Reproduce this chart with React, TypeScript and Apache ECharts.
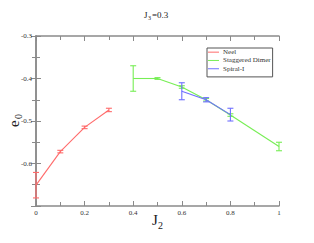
import React, { useEffect, useRef } from "react";
import * as echarts from "echarts";

const neelX = [0, 0.1, 0.2, 0.3];
const neelY = [-0.651, -0.572, -0.515, -0.474];
const neelErr = [0.03, 0.003, 0.003, 0.004];

const dimerX = [0.4, 0.5, 0.6, 0.7, 0.8, 1.0];
const dimerY = [-0.4, -0.4, -0.42, -0.45, -0.486, -0.56];
const dimerErr = [0.03, 0.002, 0.003, 0.003, 0.003, 0.01];

const spiralX = [0.6, 0.7, 0.8];
const spiralY = [-0.43, -0.45, -0.485];
const spiralErr = [0.02, 0.005, 0.015];

const xTicks = [0, 0.2, 0.4, 0.6, 0.8, 1];
const yTickLabels = [-0.3, -0.4, -0.5, -0.6];

const RED = "#ff6a6a";
const GREEN = "#77ee55";
const BLUE = "#6f6fff";
const FONT = "Liberation Serif";

// custom series: each item = [x, y, yLow, yHigh, prevX, prevY]; draws the segment from the previous point and the error bar
function dataSeries(name: string, xs: number[], ys: number[], errs: number[], color: string) {
  return {
    name: name + " data",
    type: "custom",
    data: xs.map((x, i) => [
      x,
      ys[i],
      ys[i] - errs[i],
      ys[i] + errs[i],
      i > 0 ? xs[i - 1] : x,
      i > 0 ? ys[i - 1] : ys[i],
    ]),
    encode: { x: 0, y: 1 },
    renderItem: (params: any, api: any) => {
      const x = api.value(0);
      const p = api.coord([x, api.value(1)]);
      const q = api.coord([api.value(4), api.value(5)]);
      const lo = api.coord([x, api.value(2)]);
      const hi = api.coord([x, api.value(3)]);
      const w = 3;
      const style = { stroke: color, lineWidth: 1.1, fill: null };
      return {
        type: "group",
        children: [
          { type: "line", shape: { x1: q[0], y1: q[1], x2: p[0], y2: p[1] }, style },
          { type: "line", shape: { x1: lo[0], y1: lo[1], x2: hi[0], y2: hi[1] }, style },
          { type: "line", shape: { x1: lo[0] - w, y1: lo[1], x2: lo[0] + w, y2: lo[1] }, style },
          { type: "line", shape: { x1: hi[0] - w, y1: hi[1], x2: hi[0] + w, y2: hi[1] }, style },
        ],
      };
    },
    z: 3,
  };
}

// legend-only line series
function legendSeries(name: string, color: string) {
  return {
    name,
    type: "line",
    data: [],
    symbol: "none",
    color,
    lineStyle: { color, width: 1 },
    itemStyle: { color },
  };
}

export default function App() {
  const ref = useRef<HTMLDivElement>(null);
  useEffect(() => {
    if (!ref.current) return;
    const chart = echarts.init(ref.current, null, { renderer: "svg" });
    const axisLine = { show: true, lineStyle: { color: "#8a8a8a", width: 1.5 } };
    const tickStyle = { color: "#8a8a8a", width: 1 };
    const baseX = {
      type: "value",
      min: 0,
      max: 1,
      interval: 0.2,
      axisLine,
      axisTick: { show: true, inside: true, length: 5, lineStyle: tickStyle },
      minorTick: { show: true, splitNumber: 2, length: 4, lineStyle: tickStyle },
      splitLine: { show: false },
    };
    const baseY = {
      type: "value",
      min: -0.7,
      max: -0.3,
      interval: 0.1,
      axisLine,
      axisTick: { show: true, inside: true, length: 5, lineStyle: tickStyle },
      minorTick: { show: true, splitNumber: 2, length: 4, lineStyle: tickStyle },
      splitLine: { show: false },
    };
    const txt = (text: string, x: number, y: number, size: number, rot = 0) => ({
      type: "text",
      x,
      y,
      rotation: rot,
      style: { text, fontFamily: FONT, fontSize: size, fill: "#222" },
    });
    chart.setOption({
      animation: false,
      backgroundColor: "#ffffff",
      grid: { left: 36, right: 35, top: 36, bottom: 37 },
      xAxis: [
        {
          ...baseX,
          position: "bottom",
          axisLabel: {
            fontFamily: FONT,
            fontSize: 7,
            color: "#333",
            margin: 3,
            formatter: (v: number) => (xTicks.some((t) => Math.abs(t - v) < 1e-9) ? String(Math.round(v * 10) / 10) : ""),
          },
        },
        { ...baseX, position: "top", axisLabel: { show: false } },
      ],
      yAxis: [
        {
          ...baseY,
          position: "left",
          axisLabel: {
            fontFamily: FONT,
            fontSize: 7,
            color: "#333",
            margin: 4,
            formatter: (v: number) => {
              const r = Math.round(v * 10) / 10;
              return yTickLabels.some((t) => Math.abs(t - r) < 1e-9) ? String(r) : "";
            },
          },
        },
        { ...baseY, position: "right", axisLabel: { show: false } },
      ],
      legend: {
        data: ["Neel", "Staggered Dimer", "Spiral-I"],
        orient: "vertical",
        left: 207,
        top: 48,
        itemGap: 0,
        itemWidth: 11,
        itemHeight: 1,
        icon: "rect",
        padding: [0, 2, 4, 1],
        borderColor: "#555",
        borderWidth: 1,
        backgroundColor: "#fff",
        textStyle: { fontFamily: FONT, fontSize: 7, lineHeight: 8.3, color: "#333", padding: [0, 0, 0, -1] },
      },
      graphic: [
        txt("J", 144, 10, 9),
        txt("3", 148, 15, 6),
        txt("=0.3", 152, 10, 9),
        txt("e", 6, 127, 15, Math.PI / 2),
        txt("0", 13, 119, 10, Math.PI / 2),
        txt("J", 152, 212, 15),
        txt("2", 158, 220, 10),
      ],
      series: [
        legendSeries("Neel", RED),
        legendSeries("Staggered Dimer", GREEN),
        legendSeries("Spiral-I", BLUE),
        dataSeries("Neel", neelX, neelY, neelErr, RED),
        dataSeries("Staggered Dimer", dimerX, dimerY, dimerErr, GREEN),
        dataSeries("Spiral-I", spiralX, spiralY, spiralErr, BLUE),
      ],
    });
    return () => chart.dispose();
  }, []);
  return <div ref={ref} style={{ width: 314, height: 243, position: "absolute", left: 0, top: 0 }} />;
}
